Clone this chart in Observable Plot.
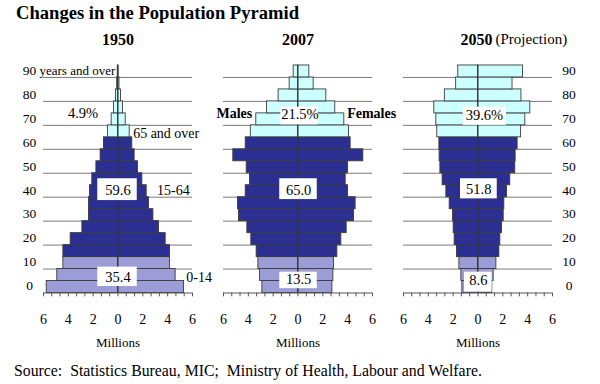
<!DOCTYPE html>
<html>
<head>
<meta charset="utf-8">
<script src="https://cdn.jsdelivr.net/npm/d3@7"></script>
<script src="https://cdn.jsdelivr.net/npm/@observablehq/plot@0.6"></script>
<style>
  body { margin: 0; background: #fff; width: 600px; height: 384px; overflow: hidden;
         font-family: "Liberation Serif", "Times New Roman", serif; color: #000; }
  #title { height: 26px; line-height: 26px; font-size: 18.6px; font-weight: bold; padding-left: 16px; white-space: nowrap; }
  #source { font-size: 15.8px; padding-left: 14px; line-height: 20px; padding-top: 3px; white-space: pre; }
  svg { display: block; }
  svg text { font-family: "Liberation Serif", "Times New Roman", serif !important; }
</style>
</head>
<body>
<div id="title">Changes in the Population Pyramid</div>
<div id="chart"></div>
<div id="source">Source:  Statistics Bureau, MIC;  Ministry of Health, Labour and Welfare.</div>
<script>
// ---- data (millions), five-year age groups from 0-4 up to 90+ ----
const years = ["1950", "2007", "2050"];
const ageStarts = [0, 5, 10, 15, 20, 25, 30, 35, 40, 45, 50, 55, 60, 65, 70, 75, 80, 85, 90];
const male1950   = [5.74, 4.89, 4.40, 4.40, 3.81, 2.87, 2.34, 2.34, 2.26, 2.07, 1.74, 1.40, 1.13, 0.81, 0.51, 0.32, 0.16, 0.07, 0.02];
const female1950 = [5.32, 4.64, 4.19, 4.19, 3.84, 3.30, 2.85, 2.50, 2.31, 1.96, 1.61, 1.34, 1.15, 0.94, 0.62, 0.40, 0.24, 0.12, 0.03];
const male2007   = [2.87, 3.06, 3.19, 3.33, 3.76, 4.08, 4.75, 4.83, 4.21, 3.87, 4.13, 5.21, 4.21, 3.80, 3.36, 2.50, 1.56, 0.67, 0.35];
const female2007 = [2.77, 2.85, 2.90, 3.17, 3.49, 3.92, 4.51, 4.64, 4.03, 3.84, 4.03, 5.26, 4.24, 4.10, 3.73, 3.00, 2.28, 1.26, 0.91];
const male2050   = [1.26, 1.34, 1.50, 1.69, 1.88, 1.96, 2.01, 2.28, 2.55, 2.85, 3.03, 3.09, 3.11, 3.28, 3.36, 3.52, 2.67, 1.76, 1.59];
const female2050 = [1.15, 1.26, 1.48, 1.72, 1.80, 1.93, 2.07, 2.12, 2.34, 2.60, 3.00, 3.03, 3.19, 3.47, 3.81, 4.21, 3.50, 2.78, 3.62];
const shares = {
  "1950": {young: "35.4", working: "59.6", old: "4.9%"},
  "2007": {young: "13.5", working: "65.0", old: "21.5%"},
  "2050": {young: "8.6",  working: "51.8", old: "39.6%"}
};
const ageTicks = [0, 10, 20, 30, 40, 50, 60, 70, 80, 90];
const gridAges = [10, 20, 30, 40, 50, 60, 70, 80, 90];
const xLabelTicks = [-6, -4, -2, 0, 2, 4, 6];
const xMinorTicks = d3.range(0, 19).map(i => -6 + i * 12 / 18);

// ---- build table ----
const males = {"1950": male1950, "2007": male2007, "2050": male2050};
const females = {"1950": female1950, "2007": female2007, "2050": female2050};
const rows = [];
for (const yr of years) {
  ageStarts.forEach((a, i) => {
    rows.push({year: yr, age: a, value: -males[yr][i]});
    rows.push({year: yr, age: a, value: females[yr][i]});
  });
}
const groupColor = a => a < 15 ? "#9c9cd6" : a < 65 ? "#2c2f92" : "#ccffff";

// ---- annotations (data units) ----
const boxes = [
  {year: "1950", x1: -1.63, x2: 1.55, y1: 38.6, y2: 47.7},
  {year: "1950", x1: -1.63, x2: 1.55, y1: 2.7,  y2: 10.8},
  {year: "2007", x1: -1.38, x2: 1.62, y1: 70.2, y2: 77.6},
  {year: "2007", x1: -1.47, x2: 1.55, y1: 39.0, y2: 47.7},
  {year: "2007", x1: -1.47, x2: 1.55, y1: 1.8,  y2: 8.7},
  {year: "2050", x1: -1.19, x2: 2.29, y1: 70.0, y2: 77.6},
  {year: "2050", x1: -1.41, x2: 1.55, y1: 39.3, y2: 47.7},
  {year: "2050", x1: -1.09, x2: 1.14, y1: 0.4,  y2: 8.7}
];
const valueLabels = [
  {year: "1950", x: 0,    age: 43.0, text: shares["1950"].working},
  {year: "1950", x: 0,    age: 6.4,  text: shares["1950"].young},
  {year: "1950", x: -2.82, age: 75.0, text: shares["1950"].old},
  {year: "2007", x: 0.15, age: 74.4, text: shares["2007"].old},
  {year: "2007", x: 0.05, age: 43.0, text: shares["2007"].working},
  {year: "2007", x: 0.05, age: 5.6,  text: shares["2007"].young},
  {year: "2050", x: 0.52, age: 74.0, text: shares["2050"].old},
  {year: "2050", x: 0.06, age: 43.4, text: shares["2050"].working},
  {year: "2050", x: 0.03, age: 5.2,  text: shares["2050"].young}
];
const groupLabels = [
  {year: "1950", x: 1.22, age: 66.4, text: "65 and over"},
  {year: "1950", x: 3.15, age: 42.8, text: "15-64"},
  {year: "1950", x: 5.5,  age: 6.6,  text: "0-14"}
];

const serif = "'Liberation Serif', 'Times New Roman', serif";
const T = {fontFamily: serif, lineAnchor: "middle"};

const chart = Plot.plot({
  width: 600,
  height: 332,
  marginLeft: 43,
  marginRight: 48,
  marginTop: 27,
  marginBottom: 65.5,
  fx: {domain: years, paddingInner: 31 / 180, paddingOuter: 0, axis: null, label: null},
  x: {domain: [-6, 6], axis: null},
  y: {domain: [0, 100], axis: null},
  color: {type: "identity"},
  style: {fontFamily: serif, fontSize: "13px", background: "white", color: "black", overflow: "visible"},
  marks: [
    // grid lines
    Plot.ruleY(gridAges, {y: d => d, stroke: "#7a7a7a", strokeWidth: 1}),
    // bars
    Plot.rect(rows, {fx: "year", x1: 0, x2: "value", y1: "age", y2: d => d.age + 5,
      fill: d => groupColor(d.age), stroke: "#3c3c3c", strokeWidth: 0.9}),
    // center line
    Plot.ruleX([0], {x: d => d, y1: 0, y2: 95, stroke: "#333", strokeWidth: 1}),
    // bottom axis line and ticks
    Plot.ruleY([0], {y: d => d, stroke: "#555", strokeWidth: 1}),
    Plot.ruleX(xMinorTicks, {x: d => d, y1: 0, y2: -1.6, stroke: "#555", strokeWidth: 1}),
    Plot.text(xLabelTicks, {...T, x: d => d, y: 0, dy: 26.5, text: d => String(Math.abs(d)), fontSize: 14}),
    Plot.text(["Millions"], {...T, x: 0, y: 0, dy: 49.5, text: d => d, fontSize: 13}),
    // age labels left and right
    Plot.text(ageTicks, {...T, fx: () => "1950", x: -6, y: d => d, dx: -14, dy: -7, text: d => String(d), fontSize: 13.5}),
    Plot.text(ageTicks, {...T, fx: () => "2050", x: 6, y: d => d, dx: 16.5, dy: -7, text: d => String(d), fontSize: 13.5}),
    Plot.text(["years and over"], {...T, fx: () => "1950", x: -6, y: 90, dx: -4, dy: -7, text: d => d, textAnchor: "start", fontSize: 13}),
    // panel titles
    Plot.text(["1950", "2007"], {...T, fx: d => d, x: 0, y: 100, dy: -14, text: d => d, fontWeight: "bold", fontSize: 16}),
    Plot.text(["2050"], {...T, fx: d => d, x: 0, y: 100, dx: -17.5, dy: -14, text: d => d, textAnchor: "start", fontWeight: "bold", fontSize: 16}),
    Plot.text(["(Projection)"], {...T, fx: () => "2050", x: 0, y: 100, dx: 17.5, dy: -14, text: d => d, textAnchor: "start", fontSize: 15}),
    // white label boxes and values
    Plot.rect(boxes, {fx: "year", x1: "x1", x2: "x2", y1: "y1", y2: "y2", fill: "white"}),
    Plot.text(valueLabels, {...T, fx: "year", x: "x", y: "age", text: "text", fontSize: 14.5}),
    Plot.text(groupLabels, {...T, fx: "year", x: "x", y: "age", text: "text", textAnchor: "start", fontSize: 14}),
    Plot.text(["Males"], {...T, fx: () => "2007", x: -3.69, y: 74.9, text: d => d, textAnchor: "end", fontWeight: "bold", fontSize: 14}),
    Plot.text(["Females"], {...T, fx: () => "2007", x: 3.96, y: 74.9, text: d => d, textAnchor: "start", fontWeight: "bold", fontSize: 14})
  ]
});
document.getElementById("chart").appendChild(chart);
</script>
</body>
</html>
